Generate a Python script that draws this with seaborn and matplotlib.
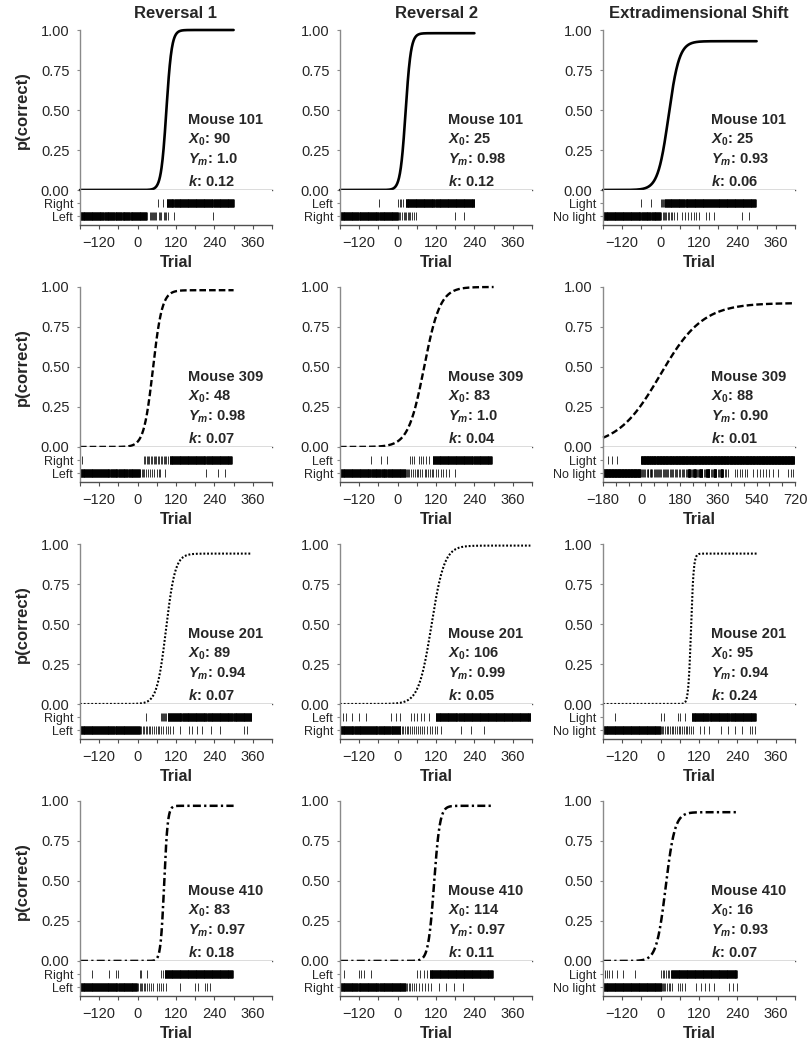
import numpy as np
import matplotlib
matplotlib.use("Agg")
import matplotlib.pyplot as plt
import seaborn as sns

stages = ["Reversal 1", "Reversal 2", "Extradimensional Shift"]
mice = [101, 309, 201, 410]
choice_names = [("Right", "Left"), ("Left", "Right"), ("Light", "No light")]

# fitted logistic parameters: rows = mice, columns = stages
x0 = [[90, 25, 25], [48, 83, 88], [89, 106, 95], [83, 114, 16]]
ym = [[1.0, 0.98, 0.93], [0.98, 1.0, 0.90], [0.94, 0.99, 0.94], [0.97, 0.97, 0.93]]
ym_txt = [["1.0", "0.98", "0.93"], ["0.98", "1.0", "0.90"], ["0.94", "0.99", "0.94"], ["0.97", "0.97", "0.93"]]
k = [[0.12, 0.12, 0.06], [0.07, 0.04, 0.01], [0.07, 0.05, 0.24], [0.18, 0.11, 0.07]]
k_txt = [["0.12", "0.12", "0.06"], ["0.07", "0.04", "0.01"], ["0.07", "0.05", "0.24"], ["0.18", "0.11", "0.07"]]
first_trial = -180
last_trial = [[300, 240, 300], [300, 300, 720], [355, 415, 300], [300, 300, 240]]

# choice rasters: (a, b) = every trial from a to b, plain int = single trial
# "_a" = upper row (new correct choice), "_b" = lower row
rev1_m101_a = [63, 78, (91, 112), (114, 236), (238, 300)]
rev1_m101_b = [(-180, -106), (-104, -71), (-69, -49), (-47, -25), (-23, 28), 38, 41, 45, 48, 52, 55, 59,
               66, 70, 73, 82, 86, 90, 94, 113, 237]
rev2_m101_a = [-59, 2, 7, 12, 18, (25, 117), (119, 240)]
rev2_m101_b = [(-180, -122), (-120, -60), (-58, 1), 4, 9, 14, 20, 23, 27, 31, 35, 40, 46, 52, 58, 178, 206]
ed_m101_a = [-60, -29, 0, 4, 8, (12, 74), (76, 156), (158, 297)]
ed_m101_b = [(-180, -61), (-59, -30), (-28, -1), 2, 6, 10, 14, 18, 22, 27, 32, 37, 43, 50, 68, 75, 85, 95,
             104, 112, 121, 143, 152, 168, 255, 277]

rev1_m309_a = [-175, 19, 24, 28, 33, 37, 42, 46, 50, 55, 59, 63, 68, 72, 77, 81, 86, 90, 95, (100, 214), (216, 294)]
rev1_m309_b = [(-180, -119), (-117, -88), (-86, -62), (-60, -31), (-29, 7), 13, 17, 21, 26, 34, 40, 46, 52,
               60, 66, 70, 85, 213, 252, 272]
rev2_m309_a = [-84, -53, -32, 40, 45, 50, 66, 72, 80, 88, 97, (110, 236), (238, 294)]
rev2_m309_b = [(-180, -85), (-83, -54), (-52, -33), (-31, 25), 28, 32, 36, 42, 48, 55, 60, 64, 70, 76, 85, 88,
               94, 100, 106, 112, 120, 126, 135, 142, 150, 160, 180]
ed_m309_a = [-158, -139, -115, (-2, 42), (44, 66), (68, 122), (124, 150), (152, 221), (223, 263), (265, 409),
             (411, 479), (481, 535), (537, 715)]
ed_m309_b = [(-180, -5), 0, 5, 9, 14, 18, 24, 29, 33, 38, 43, 47, 52, 58, 63, 67, 72, 78, 83, 88, 94, 99, 104,
             110, 115, 121, 126, 132, 138, 143, 150, 156, 162, 168, 175, 181, 188, 194, 200, 207, 213, (218, 228),
             233, 238, (243, 255), 260, 266, (271, 285), 292, 298, (303, 318), 324, 331, (337, 350), 357, 364,
             (370, 382), 390, 398, 405, 440, 450, 462, 470, 485, 495, 525, 540, 555, 570, 585, 600, 618, 640,
             685, 700, 710]

rev1_m201_a = [27, 72, 75, 79, 83, 86, 90, (94, 106), (108, 137), (139, 215), (217, 296), (298, 355)]
rev1_m201_b = [(-180, -119), (-117, -72), (-70, -19), (-17, 7), 12, 16, 20, 25, 30, 35, 40, 45, 52, 58, 63, 68,
               74, 80, 88, 95, 102, 110, 131, 160, 170, 185, 200, 230, 256, 334, 343]
rev2_m201_a = [-172, -162, -141, -121, -100, -22, -6, 9, 41, 52, 62, 72, 84, 97, (119, 189), (191, 415)]
rev2_m201_b = [(-180, -138), (-136, -95), (-93, -63), (-61, -23), (-21, 9), 14, 18, 23, 28, 34, 40, 45, 52, 58,
               64, 70, 77, 84, 92, 100, 108, 116, 124, 135, 197, 228, 269]
ed_m201_a = [-143, 2, 12, 53, 60, 75, (97, 149), (151, 216), (218, 297)]
ed_m201_b = [(-180, 0), 4, 8, 14, 20, 24, 30, 36, 40, 45, 50, 56, 62, 68, 72, 78, 84, 90, 96, 100, 122, 137,
             152, 190, 210, 232, 253, 279, 287, 294]

rev1_m410_a = [-144, -90, -66, -60, 7, 10, 28, 72, 78, (85, 297)]
rev1_m410_b = [(-180, -119), (-117, -63), (-61, -2), 2, 6, 10, 14, 19, 24, 30, 36, 42, 48, 60, 66, 72, 80, 90,
               131, 178, 188, 210, 218, 225]
rev2_m410_a = [-168, -121, -113, -106, -84, 60, 70, 82, 92, (100, 297)]
rev2_m410_b = [(-180, -125), (-123, -60), (-58, 25), 30, 35, 40, 46, 52, 58, 66, 75, 85, 95, 103, 130, 150,
               175, 205]
ed_m410_a = [-175, -168, -160, -153, -137, -118, -81, 2, 7, 12, 17, 22, 27, 31, (34, 238)]
ed_m410_b = [(-180, 3), 6, 10, 14, 20, 25, 30, 36, 53, 60, 68, 75, 112, 125, 138, 152, 168, 215, 225, 238]

rasters = [
    [(rev1_m101_a, rev1_m101_b), (rev2_m101_a, rev2_m101_b), (ed_m101_a, ed_m101_b)],
    [(rev1_m309_a, rev1_m309_b), (rev2_m309_a, rev2_m309_b), (ed_m309_a, ed_m309_b)],
    [(rev1_m201_a, rev1_m201_b), (rev2_m201_a, rev2_m201_b), (ed_m201_a, ed_m201_b)],
    [(rev1_m410_a, rev1_m410_b), (rev2_m410_a, rev2_m410_b), (ed_m410_a, ed_m410_b)],
]


def expand(items):
    out = []
    for it in items:
        if isinstance(it, tuple):
            out.extend(range(it[0], it[1] + 1))
        else:
            out.append(it)
    return np.array(out)


sns.set_theme(style="white")
plt.rcParams["font.family"] = ["Liberation Sans", "DejaVu Sans"]
plt.rcParams["mathtext.fontset"] = "custom"
plt.rcParams["mathtext.it"] = "Liberation Sans:italic:bold"
plt.rcParams["mathtext.rm"] = "Liberation Sans:bold"
plt.rcParams["mathtext.bf"] = "Liberation Sans:bold"

W, H = 810, 1050
fig = plt.figure(figsize=(W / 100, H / 100), dpi=100)

line_styles = ["-", (0, (2.8, 1.3)), (0, (0.9, 0.9)), (0, (3.2, 1.3, 0.9, 1.3))]
line_widths = [1.9, 1.7, 1.5, 1.8]
col_left = [80, 340, 603]
col_w = 192
curve_h = 160
raster_h = 35
spine_grey = "#8a8a8a"
axis_dark = "#505050"

for c in range(3):
    fig.text((col_left[c] + col_w / 2) / W, 1 - 13 / H, stages[c], ha="center", va="center",
             fontsize=12, fontweight="bold")

for r in range(4):
    top = 30 + r * 257
    zero = top + curve_h
    for c in range(3):
        left = col_left[c]
        ax = fig.add_axes([left / W, 1 - zero / H, col_w / W, curve_h / H])
        axr = fig.add_axes([left / W, 1 - (zero + raster_h) / H, col_w / W, raster_h / H])

        end = last_trial[r][c]
        xs = np.linspace(first_trial, end, 600)
        ys = ym[r][c] / (1 + np.exp(-k[r][c] * (xs - x0[r][c])))
        sns.lineplot(x=xs, y=ys, ax=ax, color="black", linewidth=line_widths[r],
                     linestyle=line_styles[r], clip_on=False)

        xmax = 720 if end > 420 else 420
        ax.set_xlim(-180, xmax)
        ax.set_ylim(0, 1)
        ax.set_yticks([0, 0.25, 0.5, 0.75, 1.0])
        ax.set_yticklabels(["0.00", "0.25", "0.50", "0.75", "1.00"])
        ax.set_xticks([])
        ax.set_xlabel("")
        ax.set_ylabel("")
        for s in ["top", "right"]:
            ax.spines[s].set_visible(False)
        ax.spines["left"].set_color(spine_grey)
        ax.spines["left"].set_linewidth(1.0)
        ax.spines["bottom"].set_color(axis_dark)
        ax.spines["bottom"].set_linewidth(1.0)
        ax.tick_params(axis="y", direction="out", length=2.5, width=0.8, color=spine_grey,
                       labelsize=10.5, pad=5, left=True)
        if c == 0:
            ax.set_ylabel("p(correct)", fontsize=12, fontweight="bold")
            ax.yaxis.set_label_coords(-0.26, 0.5)

        lines = [
            f"Mouse {mice[r]}",
            r"$X_{\mathit{0}}$: " + str(x0[r][c]),
            f"$Y_m$: {ym_txt[r][c]}",
            f"$k$: {k_txt[r][c]}",
        ]
        for txt, yy in zip(lines, [0.415, 0.29, 0.162, 0.025]):
            ax.text(0.564, yy, txt, transform=ax.transAxes, ha="left", va="baseline",
                    fontsize=10.5, fontweight="bold")

        # choice raster
        a_items, b_items = rasters[r][c]
        axr.eventplot([expand(b_items), expand(a_items)], lineoffsets=[0, 1], linelengths=0.62,
                      linewidths=0.55, colors="black")
        axr.set_xlim(-180, xmax)
        axr.set_ylim(-0.69, 2.0)
        axr.set_yticks([0, 1])
        axr.set_yticklabels([choice_names[c][1], choice_names[c][0]])
        for s in ["top", "right"]:
            axr.spines[s].set_visible(False)
        axr.spines["left"].set_color(spine_grey)
        axr.spines["left"].set_linewidth(1.0)
        axr.spines["bottom"].set_color(axis_dark)
        axr.spines["bottom"].set_linewidth(1.0)
        if xmax == 720:
            axr.set_xticks([-180, 0, 180, 360, 540, 720])
            axr.set_xticks(np.arange(-180, 721, 60), minor=True)
        else:
            axr.set_xticks([-120, 0, 120, 240, 360])
            axr.set_xticks(np.arange(-180, 421, 60), minor=True)
        axr.tick_params(axis="x", which="both", direction="out", length=3, width=0.8,
                        color=axis_dark, bottom=True, labelsize=10.5, pad=5)
        axr.tick_params(axis="y", direction="out", length=2.5, width=0.8, color=spine_grey,
                        labelsize=9, pad=2.5, left=True)
        axr.set_xlabel("Trial", fontsize=11.5, fontweight="bold")
        axr.xaxis.set_label_coords(0.5, -0.86)

fig.savefig("out.png", dpi=100, facecolor="white")
